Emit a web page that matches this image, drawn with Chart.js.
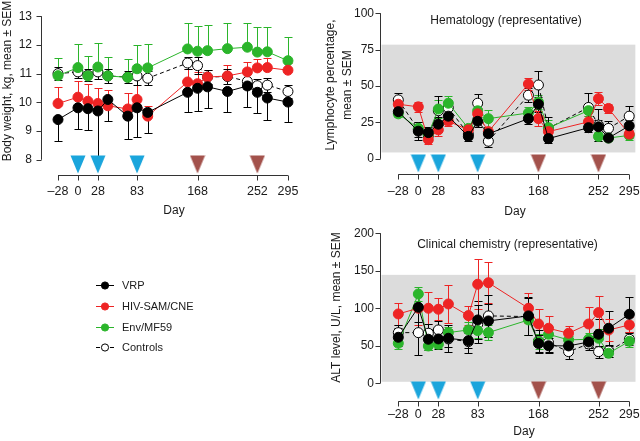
<!DOCTYPE html>
<html><head><meta charset="utf-8">
<script src="https://cdn.jsdelivr.net/npm/chart.js@4/dist/chart.umd.min.js"></script>
<style>
html,body{margin:0;padding:0;background:#fff;}
#wrap{position:relative;width:640px;height:441px;overflow:hidden;background:#fff;}
canvas{position:absolute;}
</style></head><body>
<div id="wrap">
<canvas id="cA" style="left:0;top:0" width="320" height="441"></canvas>
<canvas id="cB" style="left:320px;top:0" width="330" height="220"></canvas>
<canvas id="cC" style="left:320px;top:220px" width="330" height="221"></canvas>
</div>
<script>
// ---------- data ----------
const seriesNames = ['VRP', 'HIV-SAM/CNE', 'Env/MF59', 'Controls'];
const xTickDays = [-28, 0, 28, 83, 168, 252, 295];
const primeDays = [0, 28, 83];
const boostDays = [168, 252];

// Body weight, kg
const bwDays = [-28,0,14,28,42,70,83,98,154,168,182,210,238,252,266,295];
const bwTicks = [8,9,10,11,12,13];
const bwVRP    = [9.40,9.81,9.78,9.70,10.10,9.52,9.81,9.65,10.35,10.49,10.54,10.38,10.57,10.35,10.15,10.01];
const bwVRPsem = [0.75,0.74,0.74,1.64,0.75,0.78,1.00,0.72,0.69,0.78,0.75,0.70,0.72,0.72,0.75,0.71];
const bwSAM    = [9.96,10.18,10.04,9.96,9.88,9.77,10.10,9.52,10.71,10.65,10.88,10.92,11.06,11.20,11.21,11.12];
const bwSAMsem = [0.57,0.55,0.61,0.55,0.54,0.54,0.85,0.35,0.46,0.41,0.26,0.39,0.36,0.30,0.32,0.25];
const bwEnv    = [10.93,11.21,10.92,11.23,10.92,10.87,11.17,11.20,11.86,11.78,11.80,11.87,11.92,11.75,11.76,11.45];
const bwEnvsem = [0.63,0.82,0.68,0.82,0.66,0.63,0.81,0.83,0.92,0.87,0.90,0.91,0.86,0.89,0.88,0.81];
const bwCtl    = [11.00,11.06,10.95,11.06,10.92,10.88,10.92,10.84,11.37,11.28,10.88,10.90,10.73,10.58,10.60,10.38];
const bwCtlsem = [0.22,0.22,0.20,0.25,0.25,0.22,0.30,0.25,0.20,0.30,0.25,0.25,0.25,0.25,0.25,0.22];

// Hematology: lymphocyte percentage
const hDays = [-28,0,14,28,42,70,83,98,154,168,182,238,252,266,295];
const hTicks = [0,25,50,75,100];
const hNormal = [4.4, 78.4];
const hVRP    = [32.4,19.0,18.0,23.8,29.3,15.4,25.8,17.2,27.6,37.5,13.9,21.4,22.0,14.3,22.7];
const hVRPsem = [3,6,4,5,4,3,4,3,4,5,3,3,5,2,4];
const hSAM    = [37.5,35.7,13.2,19.9,25.8,19.9,30.9,18.7,51.4,27.6,18.7,25.4,41.3,34.6,17.0];
const hSAMsem = [3,3.5,3,4,3,3,4,3,4,5,3,4,4.5,3,3];
const hEnv    = [30.9,21.0,17.0,34.2,38.2,20.9,33.0,27.6,31.5,39.0,21.4,33.1,15.4,14.3,16.1];
const hEnvsem = [2,4,3,6,5,3,4,6,4,5,5,4,3,2,3];
const hCtl    = [40.5,20.0,16.0,33.0,35.0,17.0,38.2,12.1,43.7,50.7,21.0,35.3,23.2,20.9,29.3];
const hCtlsem = [5,5,4,10,5,3,6,4,5,9.6,8,10,11,5,7];

// Clinical chemistry: ALT level, U/L
const cDays = [-28,0,14,28,42,70,83,98,154,168,182,210,238,252,266,295];
const cTicks = [0,50,100,150,200];
const cNormal = [2, 144.5];
const cVRP    = [61.3,101.3,58.7,59.1,60.0,56.8,84.4,83.1,89.8,53.0,50.0,49.8,55.0,65.3,73.3,92.0];
const cVRPsem = [12,20,14,14,12,10,25,22,25,12,10,10,8,20,23,23];
const cSAM    = [92.4,100.0,100.0,98.7,105.7,90.2,132.0,134.0,100.0,79.0,73.3,66.7,79.0,94.2,71.0,77.8];
const cSAMsem = [15,22,21,15,25,13,33,27,20,20,17,10,23,22,15,10];
const cEnv    = [53.3,119.0,49.7,52.0,67.5,71.1,70.2,67.6,84.4,55.6,65.3,57.8,58.7,60.0,40.0,56.0];
const cEnvsem = [8,9,5,5,8,10,10,10,20,10,10,5,8,12,5,8];
const cCtl    = [67.5,67.5,66.7,71.1,59.1,55.5,78.7,89.8,88.9,56.4,54.2,42.2,52.4,42.2,43.1,58.7];
const cCtlsem = [10,30,12,12,18,15,25,28,25,15,12,10,8,8,8,8];

// ---------- style ----------
const FONT = "'Liberation Sans', Arial, Helvetica, sans-serif";
Chart.defaults.font.family = FONT;
Chart.defaults.color = '#1a1a1a';
const COL = { vrp:'#000000', sam:'#ee2424', env:'#2bb52b', ctl:'#000000', prime:'#1aa5dc', boost:'#a3524c' };

const fmtDay = v => (v < 0 ? '\u2013' + Math.abs(v) : String(v));

function triImg(color) {
  const c = document.createElement('canvas');
  c.width = 16; c.height = 42;
  const g = c.getContext('2d');
  g.fillStyle = color;
  g.beginPath(); g.moveTo(0.5, 1.5); g.lineTo(15.5, 1.5); g.lineTo(8, 19.5); g.closePath(); g.fill();
  return c;
}
const triPrime = triImg(COL.prime), triBoost = triImg(COL.boost);

function series(label, days, vals, sems, color, dir, extra) {
  return Object.assign({
    label, data: days.map((d, i) => ({x: d, y: vals[i]})),
    sem: sems, errDir: dir, errColor: color,
    borderColor: color, backgroundColor: color,
    pointBackgroundColor: color, pointBorderColor: color,
    borderWidth: 1, pointRadius: 5, pointHoverRadius: 5, pointBorderWidth: 1,
    tension: 0, clip: false
  }, extra || {});
}
function triangles(days, img, yBase) {
  return { label: '', data: days.map(d => ({x: d, y: yBase})), showLine: false,
    pointStyle: img, pointRadius: 10, pointHoverRadius: 10, clip: false, isMarker: true };
}
function groupSets(days, v, vs, s, ss, e, es, c, cs, dirs, yBase) {
  return [
    series(seriesNames[0], days, v, vs, COL.vrp, dirs[0]),
    series(seriesNames[1], days, s, ss, COL.sam, dirs[1]),
    series(seriesNames[2], days, e, es, COL.env, dirs[2]),
    series(seriesNames[3], days, c, cs, COL.ctl, dirs[3],
      {pointBackgroundColor:'#ffffff', backgroundColor:'#ffffff', borderDash:[4,3]}),
    triangles(primeDays, triPrime, yBase),
    triangles(boostDays, triBoost, yBase)
  ];
}

const deco = {
  id: 'deco',
  beforeDatasetsDraw(chart, args, o) {
    const ctx = chart.ctx, ca = chart.chartArea, xs = chart.scales.x, ys = chart.scales.y;
    ctx.save();
    if (o.band) {
      const yt = ys.getPixelForValue(o.band[1]), yb = ys.getPixelForValue(o.band[0]);
      ctx.fillStyle = '#dcdcdc';
      ctx.fillRect(ca.left + 1.5, yt, ca.right - ca.left - 2, yb - yt);
    }
    ctx.strokeStyle = '#333'; ctx.lineWidth = 1; ctx.setLineDash([]);
    const yt = ys.ticks, xt = xs.ticks;
    const ax = Math.round(ca.left) + 0.5;
    ctx.beginPath();
    ctx.moveTo(ax, ys.getPixelForValue(yt[0].value)); ctx.lineTo(ax, ys.getPixelForValue(yt[yt.length-1].value));
    yt.forEach(t => { const p = Math.round(ys.getPixelForValue(t.value)) + 0.5; ctx.moveTo(ax - 5, p); ctx.lineTo(ax, p); });
    const by = Math.round(ca.bottom) + 0.5;
    ctx.moveTo(xs.getPixelForValue(xt[0].value), by); ctx.lineTo(xs.getPixelForValue(xt[xt.length-1].value), by);
    xt.forEach(t => { const p = Math.round(xs.getPixelForValue(t.value)) + 0.5; ctx.moveTo(p, by); ctx.lineTo(p, by + 5); });
    ctx.stroke();
    // error bars (drawn under the markers)
    chart.data.datasets.forEach((ds, i) => {
      if (!ds.sem) return;
      const meta = chart.getDatasetMeta(i);
      ctx.strokeStyle = ds.errColor; ctx.lineWidth = 1;
      ctx.beginPath();
      meta.data.forEach((pt, j) => {
        const v = ds.data[j].y, s = ds.sem[j];
        const hi = ds.errDir === 'down' ? v : v + s;
        const lo = ds.errDir === 'up' ? v : v - s;
        const px = Math.round(pt.x) + 0.5;
        const ph = Math.round(ys.getPixelForValue(hi)) + 0.5, pl = Math.round(ys.getPixelForValue(lo)) + 0.5;
        ctx.moveTo(px, ph); ctx.lineTo(px, pl);
        if (ds.errDir !== 'down') { ctx.moveTo(px - 4, ph); ctx.lineTo(px + 4, ph); }
        if (ds.errDir !== 'up') { ctx.moveTo(px - 4, pl); ctx.lineTo(px + 4, pl); }
      });
      ctx.stroke();
    });
    ctx.restore();
  },
  afterDraw(chart, args, o) {
    const ctx = chart.ctx;
    ctx.save();
    ctx.fillStyle = '#1a1a1a';
    ctx.textAlign = 'center'; ctx.textBaseline = 'middle';
    ctx.font = '12px ' + FONT;
    o.yTitle.forEach((line, k) => {
      ctx.save(); ctx.translate(o.yTitleX[k], o.yTitleY); ctx.rotate(-Math.PI / 2);
      ctx.fillText(line, 0, 0); ctx.restore();
    });
    ctx.fillText('Day', o.dayX, o.dayY);
    if (o.title) ctx.fillText(o.title, o.titleX, o.titleY);
    if (o.legendY) {
      ctx.font = '11px ' + FONT;
      ctx.textAlign = 'left';
      for (let i = 0; i < 4; i++) {
        const ds = chart.data.datasets[i], y = o.legendY[i];
        ctx.save();
        ctx.strokeStyle = ds.borderColor; ctx.lineWidth = 1;
        ctx.setLineDash(ds.borderDash || []);
        ctx.beginPath(); ctx.moveTo(96, y + 0.5); ctx.lineTo(114, y + 0.5); ctx.stroke();
        ctx.setLineDash([]);
        ctx.beginPath(); ctx.arc(105, y + 0.5, 3.6, 0, Math.PI * 2);
        ctx.fillStyle = ds.pointBackgroundColor; ctx.fill();
        ctx.strokeStyle = ds.pointBorderColor; ctx.stroke();
        ctx.restore();
        ctx.fillText(ds.label, 122, y + 0.5);
      }
    }
    ctx.restore();
  }
};

function makeChart(id, cfg) {
  return new Chart(document.getElementById(id), {
    type: 'line',
    data: { datasets: cfg.datasets },
    options: {
      responsive: false, animation: false, devicePixelRatio: 1, events: [],
      layout: { padding: cfg.padding },
      plugins: { legend: {display: false}, tooltip: {enabled: false}, deco: cfg.deco },
      scales: {
        x: { type: 'linear', min: cfg.xMin, max: cfg.xMax,
          afterFit: s => { s.height = cfg.xH; },
          afterBuildTicks: s => { s.ticks = xTickDays.map(v => ({value: v})); },
          grid: {display: false, drawTicks: false}, border: {display: false},
          ticks: { autoSkip: false, maxRotation: 0, minRotation: 0, padding: cfg.xPad,
            font: {size: 12.5}, color: '#1a1a1a', callback: v => fmtDay(v) } },
        y: { type: 'linear', min: cfg.yMin, max: cfg.yMax,
          afterFit: s => { s.width = cfg.yW; },
          afterBuildTicks: s => { s.ticks = cfg.yTicks.map(v => ({value: v})); },
          grid: {display: false, drawTicks: false}, border: {display: false},
          ticks: { padding: cfg.yPad, font: {size: 12}, color: '#1a1a1a', callback: v => String(v) } }
      }
    },
    plugins: [deco]
  });
}

// Chart A: body weight (+ legend)
const bwYMin = 7.47;
makeChart('cA', {
  datasets: groupSets(bwDays, bwVRP, bwVRPsem, bwSAM, bwSAMsem, bwEnv, bwEnvsem, bwCtl, bwCtlsem,
    ['down', 'up', 'up', 'both'], bwYMin),
  padding: {top: 8, right: 20, bottom: 221, left: 0},
  xMin: -51.9, xMax: 311.9, xH: 45, xPad: 9.5,
  yMin: bwYMin, yMax: 13, yW: 41, yPad: 9, yTicks: bwTicks,
  deco: { yTitle: ['Body weight, kg, mean \u00b1 SEM'], yTitleX: [7.5], yTitleY: 81,
    dayX: 174, dayY: 211, legendY: [285, 306, 327, 347] }
});

// Chart B: hematology
const hYMin = -10.4;
makeChart('cB', {
  datasets: groupSets(hDays, hVRP, hVRPsem, hSAM, hSAMsem, hEnv, hEnvsem, hCtl, hCtlsem,
    ['both', 'both', 'both', 'both'], hYMin),
  padding: {top: 7, right: 14, bottom: 0, left: 0},
  xMin: -53.6, xMax: 304.3, xH: 46, xPad: 10,
  yMin: hYMin, yMax: 100, yW: 60, yPad: 6, yTicks: hTicks,
  deco: { band: hNormal, yTitle: ['Lymphocyte percentage,', 'mean \u00b1 SEM'], yTitleX: [10.5, 27.5], yTitleY: 85,
    dayX: 195, dayY: 212, title: 'Hematology (representative)', titleX: 186, titleY: 21 }
});

// Chart C: clinical chemistry
const cYMin = -23.6;
makeChart('cC', {
  datasets: groupSets(cDays, cVRP, cVRPsem, cSAM, cSAMsem, cEnv, cEnvsem, cCtl, cCtlsem,
    ['both', 'both', 'both', 'both'], cYMin),
  padding: {top: 13, right: 14, bottom: 0, left: 0},
  xMin: -53.6, xMax: 304.3, xH: 40, xPad: 6.4,
  yMin: cYMin, yMax: 200, yW: 60, yPad: 6, yTicks: cTicks,
  deco: { band: cNormal, yTitle: ['ALT level, U/L, mean \u00b1 SEM'], yTitleX: [16.7], yTitleY: 87.5,
    dayX: 204, dayY: 211.7, title: 'Clinical chemistry (representative)', titleX: 187.5, titleY: 25 }
});
</script>
</body></html>
